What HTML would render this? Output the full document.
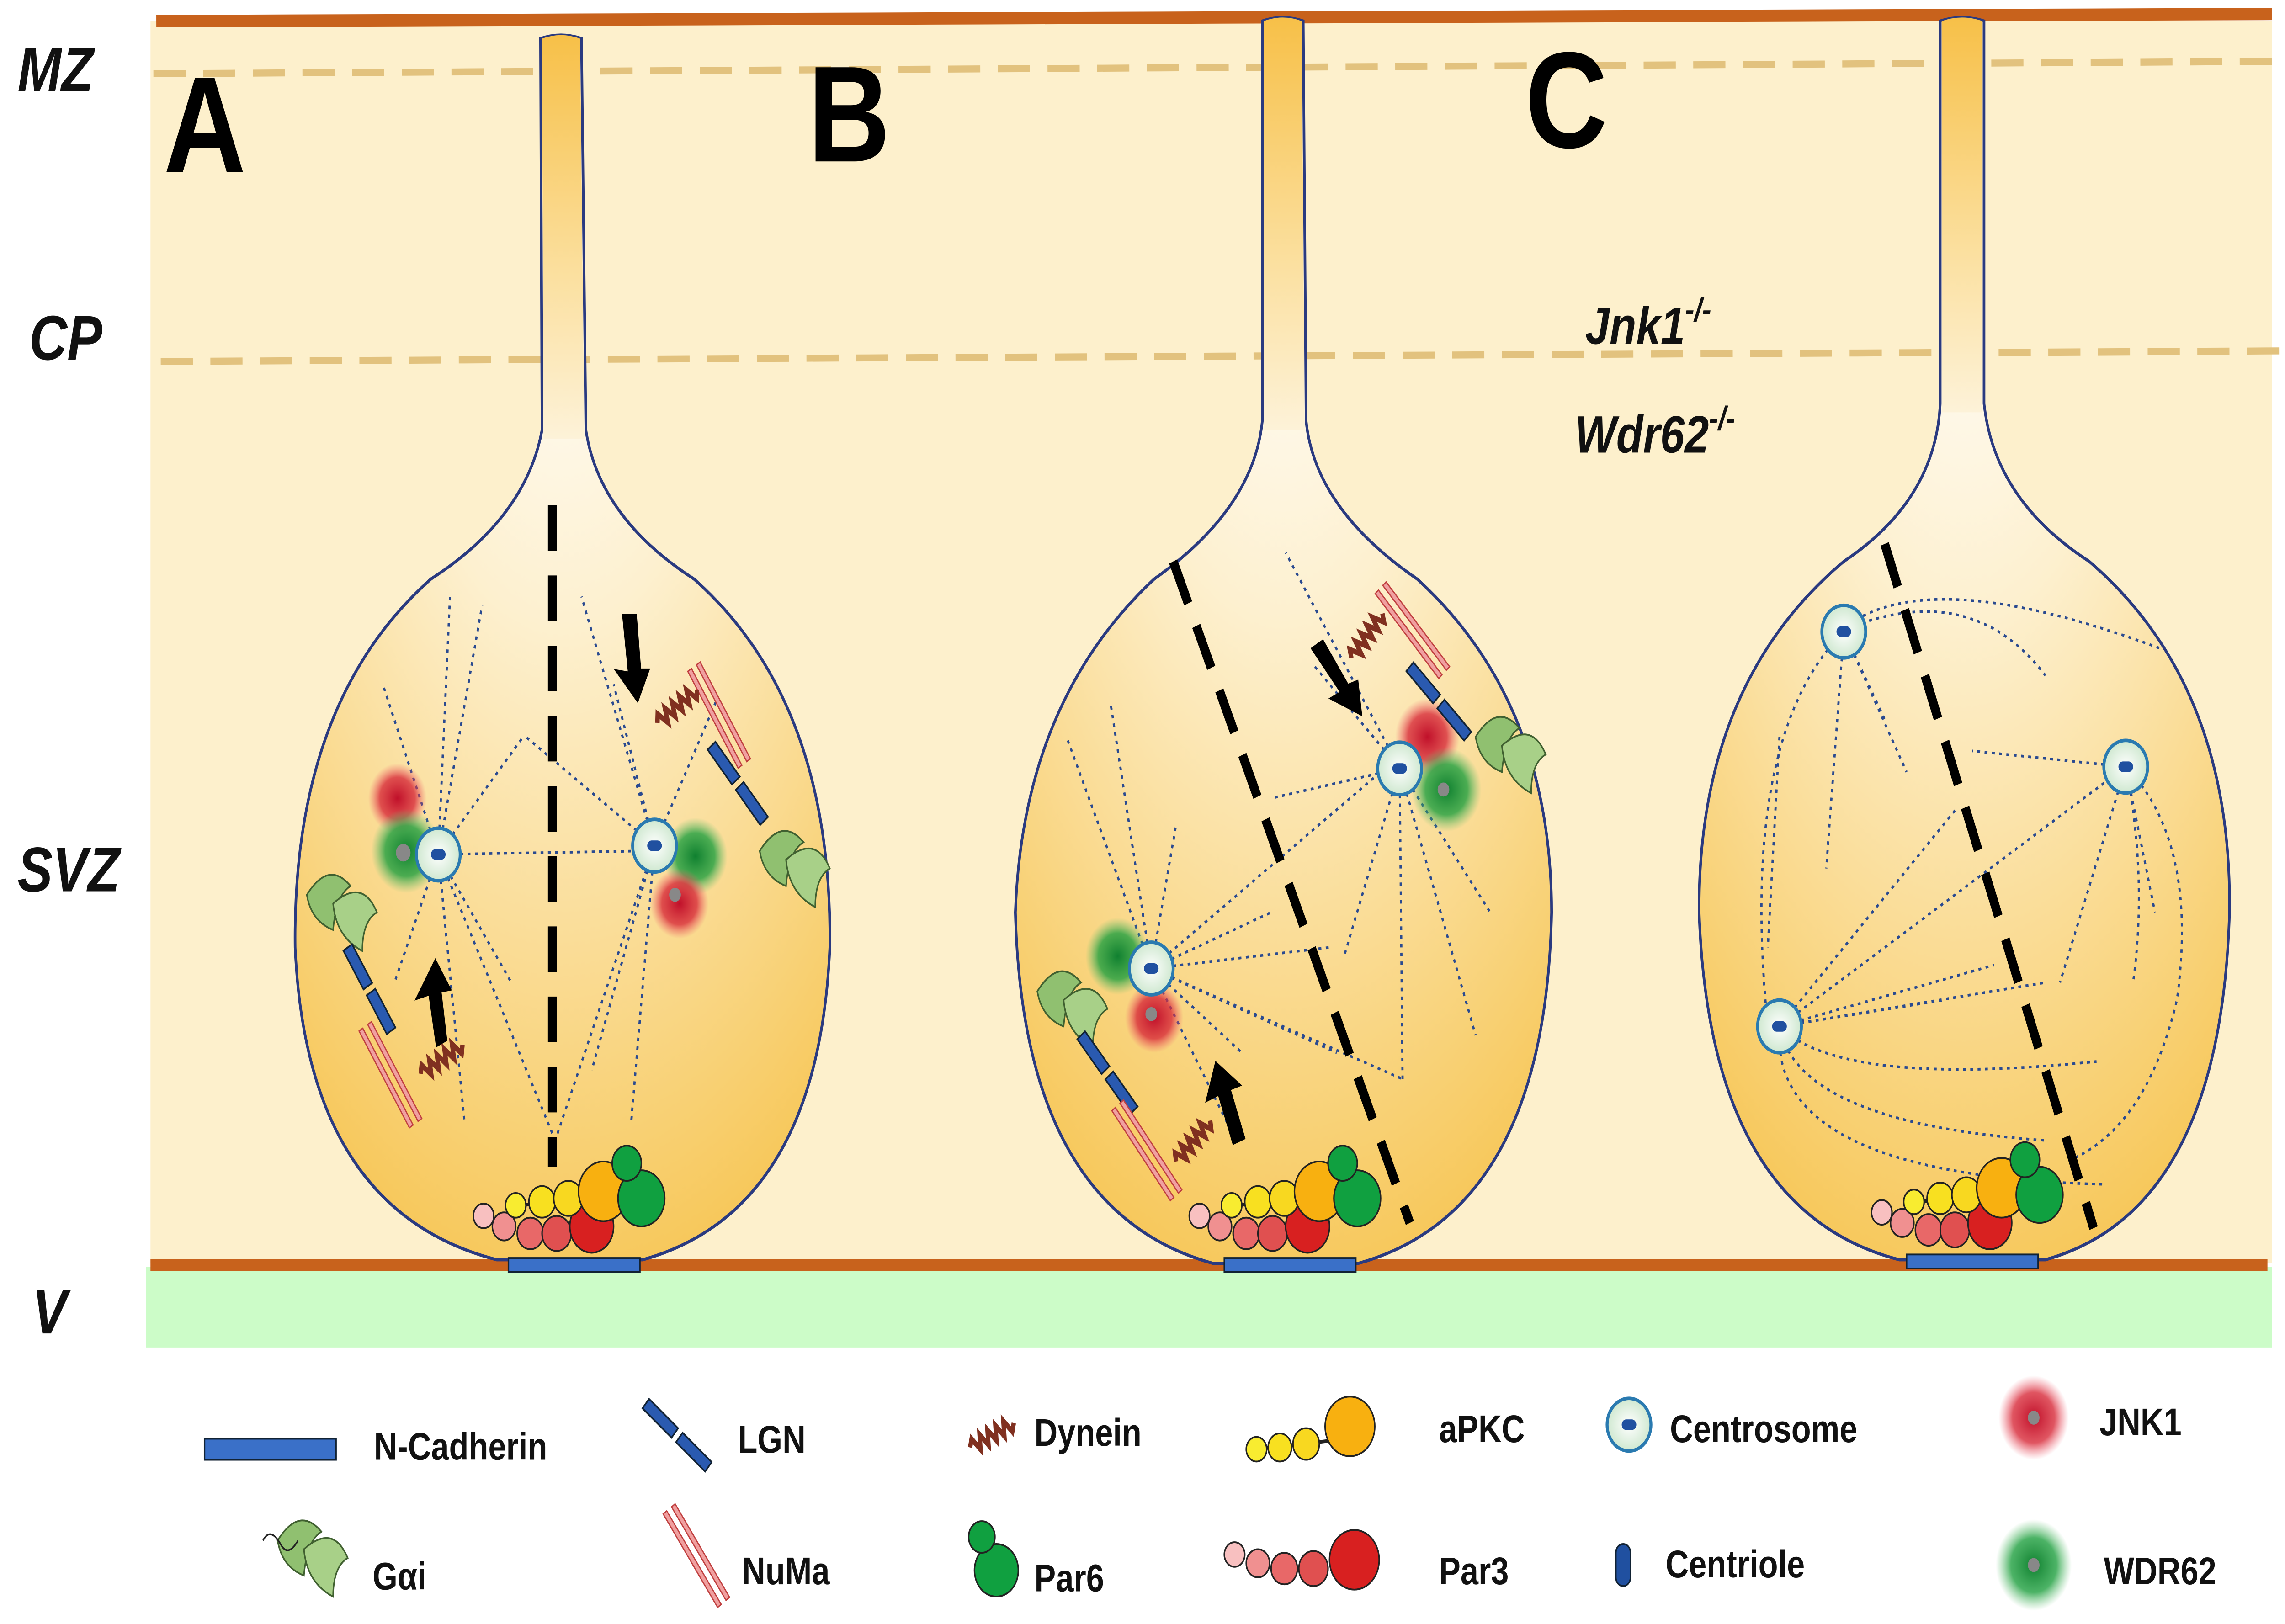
<!DOCTYPE html>
<html><head><meta charset="utf-8"><style>html,body{margin:0;padding:0;background:#fff;overflow:hidden;width:100vw;height:100vh}svg{display:block;width:100vw;height:100vh}</style></head><body>
<svg viewBox="0 0 1564 925.6" preserveAspectRatio="none" xmlns="http://www.w3.org/2000/svg" font-family="Liberation Sans, sans-serif">
<defs>
<radialGradient id="cell" cx="0.5" cy="0.15" r="0.95">
<stop offset="0" stop-color="#ffffff"/><stop offset="0.35" stop-color="#fdf0cf"/><stop offset="1" stop-color="#f6c24a"/></radialGradient>
<linearGradient id="stalk" x1="0" x2="0" y1="0" y2="1"><stop offset="0" stop-color="#f7c048"/><stop offset="0.6" stop-color="#fbe0a0"/><stop offset="1" stop-color="#fdf2d8"/></linearGradient>
<radialGradient id="red"><stop offset="0" stop-color="#c0102a"/><stop offset="0.6" stop-color="#d82b3a" stop-opacity="0.8"/><stop offset="1" stop-color="#f06070" stop-opacity="0"/></radialGradient>
<radialGradient id="grn"><stop offset="0" stop-color="#108030"/><stop offset="0.6" stop-color="#20a040" stop-opacity="0.8"/><stop offset="1" stop-color="#60c070" stop-opacity="0"/></radialGradient>
<radialGradient id="cs"><stop offset="0" stop-color="#fff"/><stop offset="1" stop-color="#cfe8d0"/></radialGradient>
<g id="cent"><circle r="15" fill="url(#cs)" stroke="#2a7ab0" stroke-width="2"/><rect x="-5" y="-3" width="10" height="6" rx="3" fill="#2050a0"/></g>
<g id="base">
<rect x="-45" y="4" width="90" height="8" fill="#3a70c8" stroke="#123" stroke-width="1"/>
<circle cx="-62" cy="-20" r="7" fill="#f8c0c0" stroke="#222"/><circle cx="-48" cy="-14" r="8" fill="#f09090" stroke="#222"/><circle cx="-30" cy="-10" r="9" fill="#e86868" stroke="#222"/><circle cx="-12" cy="-10" r="10" fill="#e05050" stroke="#222"/><circle cx="12" cy="-14" r="15" fill="#d82020" stroke="#222"/>
<line x1="-42" y1="-26" x2="5" y2="-28" stroke="#222" stroke-width="2"/>
<circle cx="-40" cy="-26" r="7" fill="#f8ec30" stroke="#222"/><circle cx="-22" cy="-28" r="9" fill="#f8e020" stroke="#222"/><circle cx="-4" cy="-30" r="10" fill="#f8d820" stroke="#222"/><circle cx="20" cy="-34" r="17" fill="#f8b010" stroke="#222"/>
<circle cx="46" cy="-30" r="16" fill="#10a040" stroke="#222"/><circle cx="36" cy="-50" r="10" fill="#10a040" stroke="#222"/>
</g>
<g id="gai"><path d="M0 0 q15 -20 30 -5 q-10 5 -12 25 q-15 -5 -18 -20z" fill="#90c070" stroke="#406030"/><path d="M18 5 q20 -15 30 5 q-10 5 -10 22 q-18 -8 -20 -27z" fill="#a8d088" stroke="#406030"/></g>
<g id="lgn"><rect x="0" y="-3.5" width="26" height="7" fill="#2a5ab0" stroke="#123"/><rect x="30" y="-3.5" width="26" height="7" fill="#2a5ab0" stroke="#123"/></g>
<g id="numa"><rect x="0" y="-5" width="65" height="3" fill="#f0a0a0" stroke="#c04040" stroke-width="0.8"/><rect x="0" y="2" width="65" height="3" fill="#f0a0a0" stroke="#c04040" stroke-width="0.8"/></g>
<g id="dyn"><path d="M0 0 l3 -4 l3 8 l3 -8 l3 8 l3 -8 l3 8 l3 -8 l3 8 l3 -8 l3 8 l3 -4" fill="none" stroke="#803020" stroke-width="3"/></g>
</defs>
<rect x="103" y="12" width="1452" height="708" fill="#fdf0cc"/>
<rect x="100" y="722" width="1455" height="46" fill="#ccfcc8"/>
<line x1="107" y1="12" x2="1555" y2="8" stroke="#c8621c" stroke-width="7"/>
<line x1="103" y1="721" x2="1552" y2="721" stroke="#c8621c" stroke-width="7"/>
<path d="M105 42 L1560 35" stroke="#e2c27e" stroke-width="4" stroke-dasharray="22 12"/>
<path d="M110 206 L1560 200" stroke="#e2c27e" stroke-width="4" stroke-dasharray="22 12"/>
<g font-style="italic" font-weight="bold" font-size="36" fill="#111">
<text x="12" y="52">MZ</text><text x="20" y="205">CP</text><text x="12" y="508">SVZ</text><text x="22" y="760">V</text>
<text x="1085" y="196" font-size="30">Jnk1<tspan font-size="19" dy="-13">-/-</tspan></text>
<text x="1078" y="258" font-size="30">Wdr62<tspan font-size="19" dy="-13">-/-</tspan></text>
</g>
<g font-weight="bold" font-size="78" fill="#000"><text x="112" y="98">A</text><text x="553" y="92">B</text><text x="1044" y="84">C</text></g>

<path d="M370 22 Q384 18 398 22 L401 245 Q410 295 475 330 Q570 400 568 540 Q560 690 440 718 L340 718 Q210 690 202 540 Q200 400 295 330 Q360 295 371 245 Z" fill="url(#cell)" stroke="#2a3a80" stroke-width="1.8"/>
<path d="M371 22 Q384 18 397 22 L400 250 L372 250 Z" fill="url(#stalk)"/>
<path d="M864 12 Q878 8 892 12 L894 240 Q900 290 970 330 Q1062 400 1062 520 Q1058 690 930 720 L830 720 Q700 690 695 520 Q700 400 790 330 Q858 290 864 240 Z" fill="url(#cell)" stroke="#2a3a80" stroke-width="1.8"/>
<path d="M865 12 Q878 8 891 12 L893 245 L865 245 Z" fill="url(#stalk)"/>
<path d="M1328 12 Q1343 8 1358 12 L1358 230 Q1365 285 1430 320 Q1528 390 1526 520 Q1520 690 1400 718 L1300 718 Q1170 690 1163 520 Q1162 390 1262 320 Q1325 285 1328 230 Z" fill="url(#cell)" stroke="#2a3a80" stroke-width="1.8"/>
<path d="M1329 12 Q1343 8 1357 12 L1357 235 L1329 235 Z" fill="url(#stalk)"/>

<g stroke="#2a4a90" stroke-width="1.5" stroke-dasharray="2 3" fill="none">
<path d="M300 487 L308 340 M300 487 L330 345 M300 487 L270 560 M300 487 L318 640 M300 487 L380 650 M300 487 L350 560 M300 487 L440 485 M300 487 L358 420 M300 487 L262 390"/>
<path d="M448 482 L398 340 M448 482 L420 390 M448 482 L405 610 M448 482 L432 640 M448 482 L380 650 M448 482 L490 400 M448 482 L360 420"/>
<path d="M788 552 L730 420 M788 552 L760 400 M788 552 L805 470 M788 552 L870 520 M788 552 L945 440 M788 552 L910 540 M788 552 L915 600 M788 552 L840 640 M788 552 L850 600 M788 552 L960 615"/>
<path d="M958 438 L880 315 M958 438 L870 455 M958 438 L900 380 M958 438 L960 615 M958 438 L1010 590 M958 438 L1020 520 M958 438 L920 545"/>
<path d="M1262 360 L1250 495 M1262 360 L1305 440 M1262 360 L1290 410 M1218 585 L1455 437 M1218 585 L1330 570 M1218 585 L1365 550 M1218 585 L1340 460 M1218 585 L1400 560 M1455 437 L1350 428 M1455 437 L1410 560 M1455 437 L1475 520"/>
<path d="M1265 358 Q1350 330 1400 385 M1262 358 Q1320 320 1480 370 M1262 360 Q1190 420 1210 585 M1218 420 L1210 540 M1218 585 Q1230 640 1400 650 M1218 585 Q1260 620 1435 605 M1218 590 Q1215 670 1440 675 M1455 437 Q1505 480 1490 570 Q1470 640 1420 660 M1455 437 Q1470 500 1460 560"/>
</g>

<g stroke="#000" stroke-width="6" stroke-dasharray="26 14"><line x1="378" y1="288" x2="378" y2="665"/><line x1="803" y1="320" x2="965" y2="697"/><line x1="1290" y1="310" x2="1433" y2="700"/></g>

<circle cx="272" cy="455" r="20" fill="url(#red)"/><circle cx="278" cy="485" r="24" fill="url(#grn)"/><circle cx="276" cy="486" r="5" fill="#888"/>
<use href="#cent" x="300" y="487"/>
<circle cx="476" cy="488" r="22" fill="url(#grn)"/><circle cx="465" cy="515" r="20" fill="url(#red)"/><circle cx="462" cy="510" r="4" fill="#888"/>
<use href="#cent" x="448" y="482"/>
<use href="#gai" x="210" y="510"/><use href="#lgn" transform="translate(238,540) rotate(58)"/>
<use href="#numa" transform="translate(250,585) rotate(58)"/><use href="#dyn" transform="translate(288,612) rotate(-30)"/>
<use href="#gai" transform="translate(520,485)"/><use href="#lgn" transform="translate(487,425) rotate(50)"/>
<use href="#numa" transform="translate(475,380) rotate(58)"/><use href="#dyn" transform="translate(450,412) rotate(-35)"/>
<path d="M300 594 L295 565 L288 567 L298 550 L306 563 L300 564 L304 592Z" fill="#000" stroke="#000" stroke-width="4"/>
<path d="M428 352 L432 385 L425 384 L436 397 L442 383 L437 383 L434 352Z" fill="#000" stroke="#000" stroke-width="4"/>
<use href="#base" x="393" y="713"/>
<circle cx="765" cy="545" r="22" fill="url(#grn)"/><circle cx="790" cy="580" r="20" fill="url(#red)"/><circle cx="788" cy="578" r="4" fill="#888"/>
<use href="#cent" x="788" y="552"/>
<circle cx="977" cy="420" r="22" fill="url(#red)"/><circle cx="990" cy="450" r="24" fill="url(#grn)"/><circle cx="988" cy="450" r="4" fill="#888"/>
<use href="#cent" x="958" y="438"/>
<use href="#gai" x="710" y="565"/><use href="#lgn" transform="translate(740,590) rotate(50)"/>
<use href="#numa" transform="translate(765,630) rotate(52)"/><use href="#dyn" transform="translate(805,662) rotate(-45)"/>
<use href="#gai" x="1010" y="420"/><use href="#lgn" transform="translate(965,380) rotate(45)"/>
<use href="#numa" transform="translate(945,335) rotate(48)"/><use href="#dyn" transform="translate(925,375) rotate(-50)"/>
<path d="M845 650 L835 622 L828 625 L833 608 L846 618 L840 620 L850 648Z" fill="#000" stroke="#000" stroke-width="4"/>
<path d="M900 370 L920 395 L914 398 L930 405 L928 390 L922 392 L905 367Z" fill="#000" stroke="#000" stroke-width="4"/>
<use href="#base" x="883" y="713"/>
<use href="#cent" x="1262" y="360"/><use href="#cent" x="1455" y="437"/><use href="#cent" x="1218" y="585"/>
<use href="#base" x="1350" y="711"/>

<g font-weight="bold" font-size="22" fill="#111">
<rect x="140" y="820" width="90" height="12" fill="#3a70c8" stroke="#123"/><text x="256" y="832">N-Cadherin</text>
<use href="#lgn" transform="translate(442,800) rotate(40)"/><text x="505" y="828">LGN</text>
<use href="#dyn" transform="translate(664,825) rotate(-25)"/><text x="708" y="824">Dynein</text>
<g transform="translate(882,838)"><line x1="-22" y1="-12" x2="40" y2="-18" stroke="#222" stroke-width="2"/><circle cx="-22" cy="-12" r="7" fill="#f8ec30" stroke="#222"/><circle cx="-6" cy="-13" r="8" fill="#f8e020" stroke="#222"/><circle cx="12" cy="-15" r="9" fill="#f8d820" stroke="#222"/><circle cx="42" cy="-25" r="17" fill="#f8b010" stroke="#222"/></g><text x="985" y="822">aPKC</text>
<use href="#cent" x="1115" y="812"/><text x="1143" y="822">Centrosome</text>
<circle cx="1392" cy="808" r="24" fill="url(#red)"/><circle cx="1392" cy="808" r="4" fill="#888"/><text x="1437" y="818">JNK1</text>
<use href="#gai" transform="translate(190,878)"/><path d="M180 878 q5 -8 12 2 q5 8 12 -2" stroke="#222" fill="none"/><text x="255" y="906">Gαi</text>
<use href="#numa" transform="translate(458,860) rotate(55)"/><text x="508" y="903">NuMa</text>
<circle cx="682" cy="895" r="15" fill="#10a040" stroke="#222"/><circle cx="672" cy="876" r="9" fill="#10a040" stroke="#222"/><text x="708" y="907">Par6</text>
<g transform="translate(845,886)"><circle cx="0" cy="0" r="7" fill="#f8c0c0" stroke="#222"/><circle cx="16" cy="5" r="8" fill="#f09090" stroke="#222"/><circle cx="34" cy="8" r="9" fill="#e86868" stroke="#222"/><circle cx="54" cy="8" r="10" fill="#e05050" stroke="#222"/><circle cx="82" cy="3" r="17" fill="#d82020" stroke="#222"/></g><text x="985" y="903">Par3</text>
<rect x="1106" y="880" width="10" height="24" rx="5" fill="#2050a0" stroke="#123"/><text x="1140" y="899">Centriole</text>
<circle cx="1392" cy="892" r="26" fill="url(#grn)"/><circle cx="1392" cy="892" r="4" fill="#888"/><text x="1440" y="903">WDR62</text>
</g>
</svg>
</body></html>
